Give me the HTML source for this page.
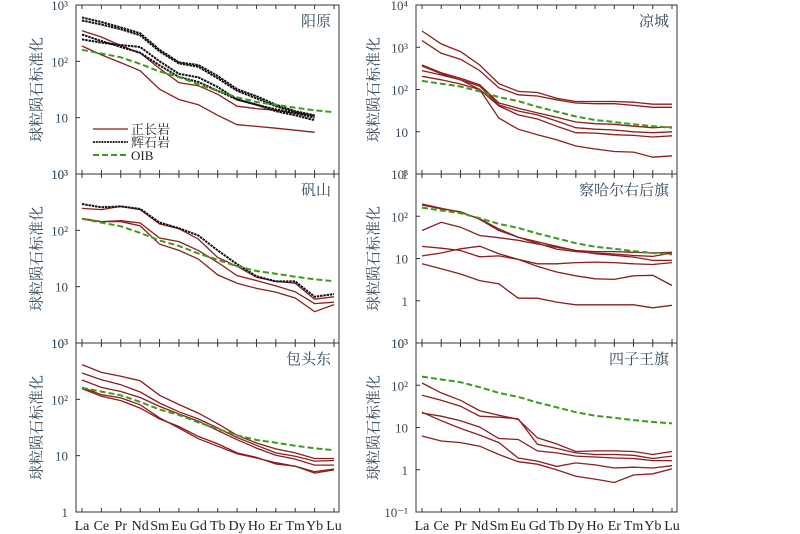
<!DOCTYPE html>
<html><head><meta charset="utf-8"><style>
html,body{margin:0;padding:0;background:#fff;}
svg{display:block;}
text{font-family:"Liberation Serif","Noto Serif CJK SC","Noto Sans CJK SC",serif;}
</style></head><body>
<svg id="chart" width="800" height="534" viewBox="0 0 800 534" xmlns="http://www.w3.org/2000/svg"></svg>
<script>
const elements = ["La","Ce","Pr","Nd","Sm","Eu","Gd","Tb","Dy","Ho","Er","Tm","Yb","Lu"];
const oib = [160,137,118,90,66,53,39,30,23,19,17,15,13.5,12.5];

const yangyuanGabbro = [
  [600,500,400,315,160,96,86,55,32,24,17,13,11,null],
  [530,450,370,290,150,92,80,50,30,22,16,12.5,10.5,null],
  [245,215,195,180,100,60,52,35,21,17,13,11,9,null],
  [300,230,180,142,85,53,43,30,21,17,14,12,10,null]
];
const yangyuanSyenite = [
  [350,270,190,140,75,42,37,26,16,14.5,13.5,12,11,null],
  [187,130,95,68,32,21,17,11,7.5,7,6.5,6,5.5,null]
];
const liangchengSyenite = [
  [2430,1200,790,380,137,90,85,62,52,52,52,50,45,45],
  [1440,720,520,280,110,75,70,57,48,46,46,42,38,38],
  [380,250,185,130,48,36,28,22,17,15.5,15,13.5,12.5,13],
  [280,220,170,120,43,31,25,18,12.5,11.5,11,10,9.5,10],
  [205,170,135,100,41,25,20,13.5,9.5,9.3,8.5,8.2,7.5,8],
  [360,235,170,100,21,11.5,8.5,6.5,4.6,3.9,3.4,3.3,2.5,2.7]
];
const fanshanGabbro = [
  [293,256,266,240,138,109,81,44,25,15.3,12.4,12.4,6.6,7.4]
];
const fanshanSyenite = [
  [245,233,266,233,130,107,70,33,23,14.7,12.4,11.5,6,6.6],
  [163,143,148,135,73,63,44,27,15.7,12.8,10.3,8.1,5,5.3],
  [158,143,143,120,57,44,31,16.2,11.5,9.3,8,6.3,3.6,4.8]
];
const chaharSyenite = [
  [195,155,124,87,50,32,25,19.5,15.5,13,11.9,10.8,9,9],
  [185,150,128,84,46,32,23,16.7,14.6,13.5,12.8,11.8,11.2,13.5],
  [46,72,55,35,31,27,22,18.5,15.5,14.6,14.6,14,13.5,14],
  [19.3,17.5,15.5,11,11.5,9.5,7.5,7.5,8,8.2,8,7.5,7.2,8],
  [11.5,13.5,17,19.5,13,9.5,6.5,4.8,3.9,3.3,3.2,3.9,4,2.3],
  [7.5,5.7,4.3,3,2.5,1.15,1.15,0.93,0.8,0.8,0.8,0.8,0.68,0.78]
];
const baotouSyenite = [
  [413,301,256,214,118,81,57,37,23,16.8,13.2,11.2,8.9,8.9],
  [293,223,182,135,86,60,45,31,21,15.3,11.2,9.8,8,8.2],
  [220,163,138,108,75,55,41,28,19.2,13.6,10.2,8.7,6.8,6.8],
  [163,121,106,80,47,31,20,14.7,10.8,9.1,7.5,6.5,4.9,5.6],
  [155,113,95,70,45,33,22,16.2,11.2,9.3,7.1,6.5,5.2,5.8]
];
const siziwangSyenite = [
  [113,66,44,25,19.5,15.5,5.7,4.1,2.7,2.8,2.8,2.7,2.3,2.7],
  [58,44,32,18.5,17.5,16,4,3.2,2.5,2.3,2.3,2.2,1.85,2.1],
  [22,18.5,14.5,10.2,5.5,5.2,2.8,2.5,2.1,2,1.9,1.85,1.65,1.65],
  [23,14.5,9.5,6.6,4.4,1.9,1.6,1.2,1.45,1.3,1.1,1.15,1.1,1.25],
  [6.3,4.8,4.4,3.6,2.3,1.55,1.35,1,0.7,0.6,0.5,0.75,0.8,1.05]
];
const leftTicks = ["10³","10²","10","10³"];
const rightTicksTop = ["10⁴","10³","10²","10","1"];
const rightTicksMid = ["10³","10²","10","1","10³"];
const rightTicksBot = ["10³","10²","10","1","10⁻¹"];
const leftTicksBot = ["10³","10²","10","1"];

const NS="http://www.w3.org/2000/svg";
const svg=document.getElementById('chart');
function mk(tag,attrs,parent){const e=document.createElementNS(NS,tag);for(const k in attrs)e.setAttribute(k,attrs[k]);(parent||svg).appendChild(e);return e;}

const RED="#8b1e1e", GREEN="#3a9b1c", TXT="#34495a";
const panels=[
 {name:"yangyuan",title:"阳原",x0:76,x1:339,y0:5,y1:174,top:3,dec:3,ticks:leftTicks,gab:yangyuanGabbro,sye:yangyuanSyenite,legend:true,xl:false,side:"left"},
 {name:"liangcheng",title:"凉城",x0:416,x1:677,y0:5,y1:174,top:4,dec:4,ticks:rightTicksTop,gab:[],sye:liangchengSyenite,xl:false,side:"right"},
 {name:"fanshan",title:"矾山",x0:76,x1:339,y0:174,y1:343,top:3,dec:3,ticks:leftTicks,gab:fanshanGabbro,sye:fanshanSyenite,xl:false,side:"left"},
 {name:"chahar",title:"察哈尔右后旗",x0:416,x1:677,y0:174,y1:343,top:3,dec:4,ticks:rightTicksMid,gab:[],sye:chaharSyenite,xl:false,side:"right"},
 {name:"baotou",title:"包头东",x0:76,x1:339,y0:343,y1:512,top:3,dec:3,ticks:leftTicksBot,gab:[],sye:baotouSyenite,xl:true,side:"left"},
 {name:"siziwang",title:"四子王旗",x0:416,x1:677,y0:343,y1:512,top:3,dec:4,ticks:rightTicksBot,gab:[],sye:siziwangSyenite,xl:true,side:"right"}
];

panels.forEach(p=>{
  const g=mk('g',{});
  
  
  const laX=p.x0+6, luX=p.x1-5;
  const xs=i=>laX+i*(luX-laX)/13;
  const ys=v=>p.y0+(p.top-Math.log10(v))*(p.y1-p.y0)/p.dec;
  const frame=mk('rect',{x:p.x0,y:p.y0,width:p.x1-p.x0,height:p.y1-p.y0,fill:"none",stroke:"#333","stroke-width":1},g);
  
  
  elements.forEach((el,i)=>{
    const x=xs(i);
    mk('line',{x1:x,x2:x,y1:p.y1,y2:p.y1-4,stroke:"#333","stroke-width":1},g);
    mk('line',{x1:x,x2:x,y1:p.y0,y2:p.y0+4,stroke:"#333","stroke-width":1},g);
    if(p.xl){
      const t=mk('text',{x:x,y:530,"font-size":14,"text-anchor":"middle",fill:"#222"},g);
      t.textContent=el;
      
      
    }
  });
  p.ticks.forEach((lab,k)=>{
    const y=p.y0+k*(p.y1-p.y0)/p.dec;
    mk('line',{x1:p.x0,x2:p.x0+4,y1:y,y2:y,stroke:"#333","stroke-width":1},g);
    const t=mk('text',{x:p.x0-8,y:y+5,"font-size":13,"text-anchor":"end",fill:TXT},g);
    t.textContent=lab;
    
    
  });
  const cx=p.side==="left"?38:375, cy=(p.y0+p.y1)/2;
  const yt=mk('text',{x:cx,y:cy,"font-size":15,"text-anchor":"middle",fill:TXT,transform:`rotate(-90 ${cx} ${cy})`,"dominant-baseline":"middle"},g);
  yt.textContent="球粒陨石标准化";
  
  
  const tt=mk('text',{x:p.x1-8,y:p.y0+21,"font-size":15,"text-anchor":"end",fill:TXT},g);
  tt.textContent=p.title;
  
  
  function path(arr){let d="";arr.forEach((v,i)=>{if(v==null)return;d+=(d?"L":"M")+xs(i).toFixed(1)+","+ys(v).toFixed(1);});return d;}
  p.sye.forEach(s=>{
    const l=mk('path',{d:path(s),fill:"none",stroke:RED,"stroke-width":1.3},g);
    
    
  });
  p.gab.forEach(s=>{
    const l=mk('path',{d:path(s),fill:"none",stroke:"#111","stroke-width":2,"stroke-dasharray":"2.5 0.8"},g);
    
    
  });
  const o=mk('path',{d:path(oib),fill:"none",stroke:GREEN,"stroke-width":2,"stroke-dasharray":"6 3"},g);
  
  
  if(p.legend){
    const items=[["正长岩",RED,"none",1.3],["辉石岩","#111","2 0.8",1.7],["OIB",GREEN,"6 3",2]];
    items.forEach((it,k)=>{
      const y=129+k*13;
      const lg=mk('g',{},g);
      
      
      mk('line',{x1:93,x2:128,y1:y,y2:y,stroke:it[1],"stroke-width":it[3],"stroke-dasharray":it[2]},lg);
      const t=mk('text',{x:131,y:y+5,"font-size":13,fill:"#222"},lg);
      t.textContent=it[0];
    });
  }
});
</script>
</body></html>
